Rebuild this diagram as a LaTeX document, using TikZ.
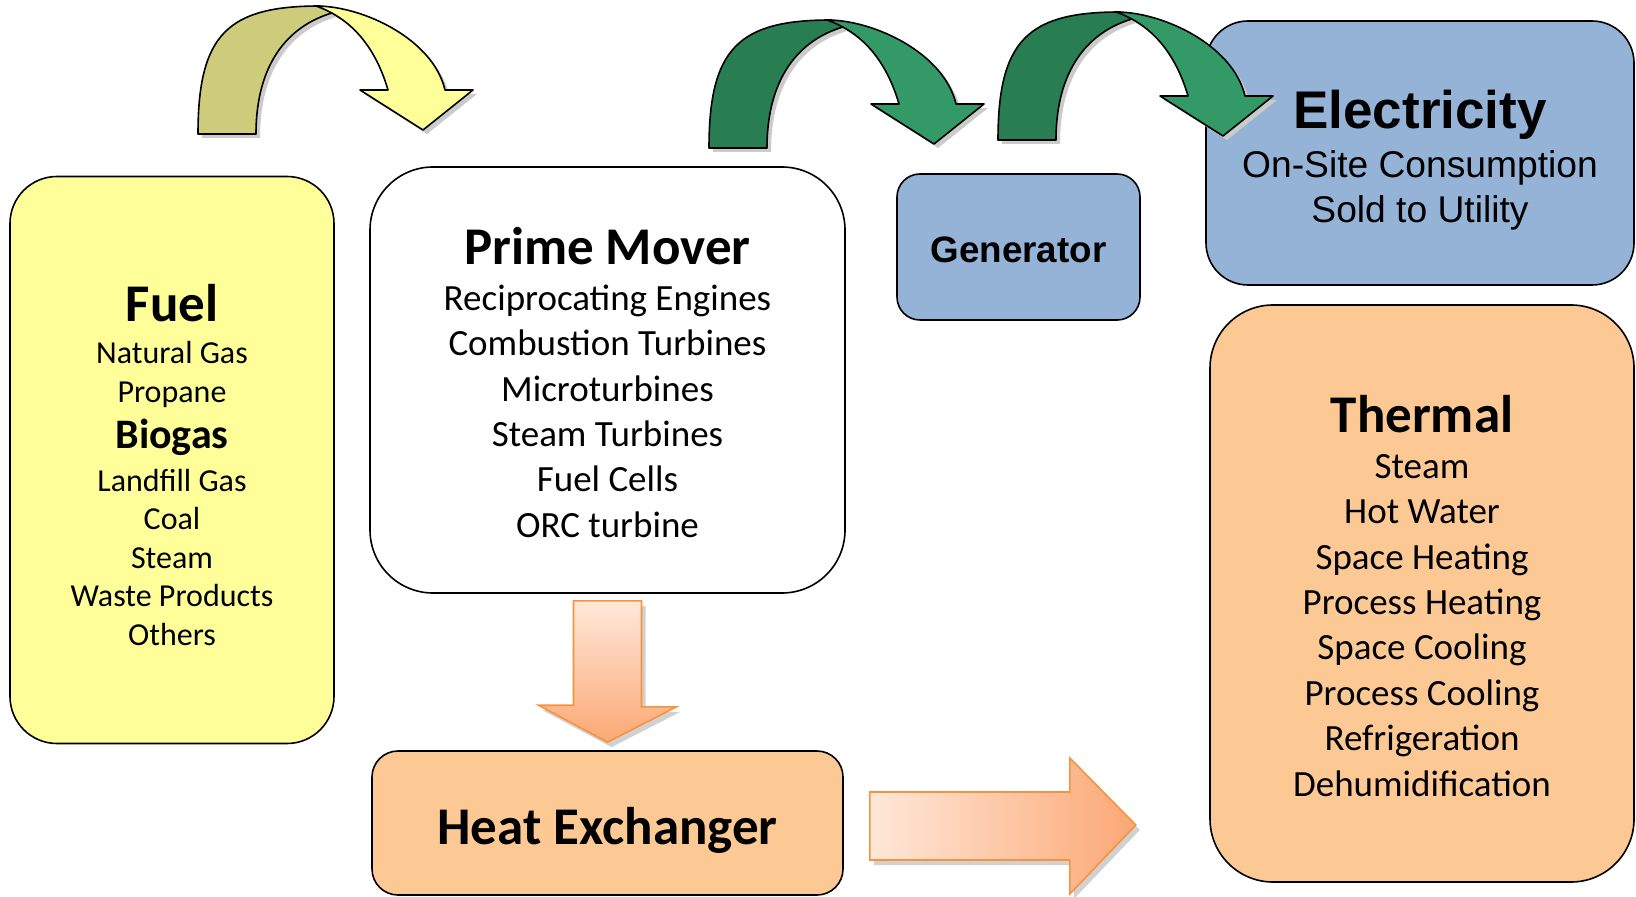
\documentclass[tikz,border=0pt]{standalone}
\usepackage{fontspec}
\setmainfont{Carlito}
\newfontfamily\arialfont{Liberation Sans}
\usepackage{tikz}
\usetikzlibrary{calc, shadows}

\definecolor{fuelyellow}{HTML}{FFFF99}
\definecolor{elecblue}{HTML}{95B3D7}
\definecolor{thermorange}{HTML}{FCC995}
\definecolor{yelLight}{HTML}{FFFF99}
\definecolor{yelDark}{HTML}{CCCC7A}
\definecolor{grnLight}{HTML}{339966}
\definecolor{grnDark}{HTML}{287D52}
\definecolor{orPale}{HTML}{FFE8DA}
\definecolor{orDeep}{HTML}{FBA874}
\definecolor{orLine}{HTML}{F7923F}
\definecolor{shadowgray}{HTML}{CBCBCB}

\newcommand{\boxtitle}{\fontsize{26.5}{30}\selectfont\bfseries}
\newcommand{\fuellist}{\fontsize{16}{19.3}\selectfont}
\newcommand{\mainlist}{\fontsize{18.5}{22.7}\selectfont}
\newcommand{\elecfont}{\arialfont\fontsize{18.6}{22.5}\selectfont}
% extra room above a title line
\newcommand{\toppad}[2]{\raisebox{0pt}[\dimexpr\height+#1\relax]{#2}}

\tikzstyle{roundbox} = [draw=black, line width=0.8pt, align=center, inner sep=0pt]
\tikzstyle{bentarrow} = [draw=black, line width=0.8pt, line join=round]
\tikzstyle{blockarrow} = [draw=orLine, line width=0.8pt, line join=miter,
  drop shadow={shadow xshift=2pt, shadow yshift=-2.5pt, fill=black!30, opacity=0.6}]

\begin{document}
\begin{tikzpicture}[x=0.5pt, y=-0.5pt]
    \useasboundingbox (0,0) rectangle (1636,897);

    % Boxes
    \node[roundbox, fill=fuelyellow, minimum width=162pt, minimum height=283.5pt,
          rounded corners=23.5pt, font=\fuellist] (fuel) at (172,460)
      {\toppad{5.2pt}{\boxtitle Fuel}\\[1.7pt] Natural Gas\\ Propane\\[3.7pt]
       {\fontsize{21}{24}\selectfont\bfseries Biogas}\\[2.1pt] Landfill Gas\\
       Coal\\ Steam\\ Waste Products\\ Others};
    \node[roundbox, fill=white, minimum width=237.5pt, minimum height=213pt,
          rounded corners=31.5pt, font=\mainlist] (pm) at (607.5,380)
      {\toppad{2.6pt}{\boxtitle Prime Mover}\\ Reciprocating Engines\\ Combustion Turbines\\
       Microturbines\\ Steam Turbines\\ Fuel Cells\\ ORC turbine};
    \node[roundbox, fill=elecblue, minimum width=121.5pt, minimum height=73pt,
          rounded corners=11.5pt, text height=15.2pt, text depth=0pt,
          font=\arialfont\fontsize{18.4}{22}\selectfont\bfseries]
      (gen) at (1018.5,247) {Generator};
    \node[roundbox, fill=elecblue, minimum width=214pt, minimum height=132pt,
          rounded corners=21pt, font=\elecfont] (elec) at (1420,153)
      {\toppad{6.8pt}{\fontsize{26.5}{30}\selectfont\bfseries Electricity}\\[2pt]
       On-Site Consumption\\ Sold to Utility};
    \node[roundbox, fill=thermorange, minimum width=212pt, minimum height=288.5pt,
          rounded corners=31.5pt, font=\mainlist] (therm) at (1422,593.5)
      {\toppad{2.6pt}{\boxtitle Thermal}\\ Steam\\ Hot Water\\ Space Heating\\ Process Heating\\
       Space Cooling\\ Process Cooling\\ Refrigeration\\ Dehumidification};
    \node[roundbox, fill=thermorange, minimum width=235.5pt, minimum height=72pt,
          rounded corners=13pt, text height=24pt, text depth=3pt, font=\boxtitle]
      (hx) at (607.5,823) {Heat Exchanger};

    % Curved arrows: back band, then front band with head
    \def\backband{(0,0) .. controls (0,-100) and (30,-128) .. (122,-128) -- (134,-121)
      .. controls (90,-108) and (58,-70) .. (58,0) -- cycle}
    \def\frontband{(118,-128) .. controls (165,-128) and (235,-95) .. (247,-44)
      -- (275,-44) -- (225,-4) -- (162,-44) -- (190,-44)
      .. controls (178,-85) and (155,-115) .. (118,-128) -- cycle}
    \foreach \ox/\oy/\dk/\lt in {198/134/yelDark/yelLight, 709/148/grnDark/grnLight,
                                 998/140/grnDark/grnLight} {
      \begin{scope}[shift={(\ox,\oy)}]
        \fill[shadowgray, shift={(4,4)}] \backband;
        \fill[shadowgray, shift={(4,4)}] \frontband;
        \path[bentarrow, fill=\dk] \backband;
        \path[bentarrow, fill=\lt] \frontband;
      \end{scope}
    }

    % Block arrows to the heat exchanger and to thermal
    \path[blockarrow, top color=orPale, bottom color=orDeep]
      ($(pm.south)+(-34,7)$) -- ++(68,0) -- ++(0,106) -- ++(35,0)
      -- ($(hx.north)+(0,-8)$) -- ++(-69,-37) -- ++(35,0) -- cycle;
    \path[blockarrow, left color=orPale, right color=orDeep]
      ($(hx.east)+(26,-31)$) -- ++(200,0) -- ++(0,-34) -- ++(66,67)
      -- ++(-66,69) -- ++(0,-34) -- ++(-200,0) -- cycle;
\end{tikzpicture}
\end{document}
